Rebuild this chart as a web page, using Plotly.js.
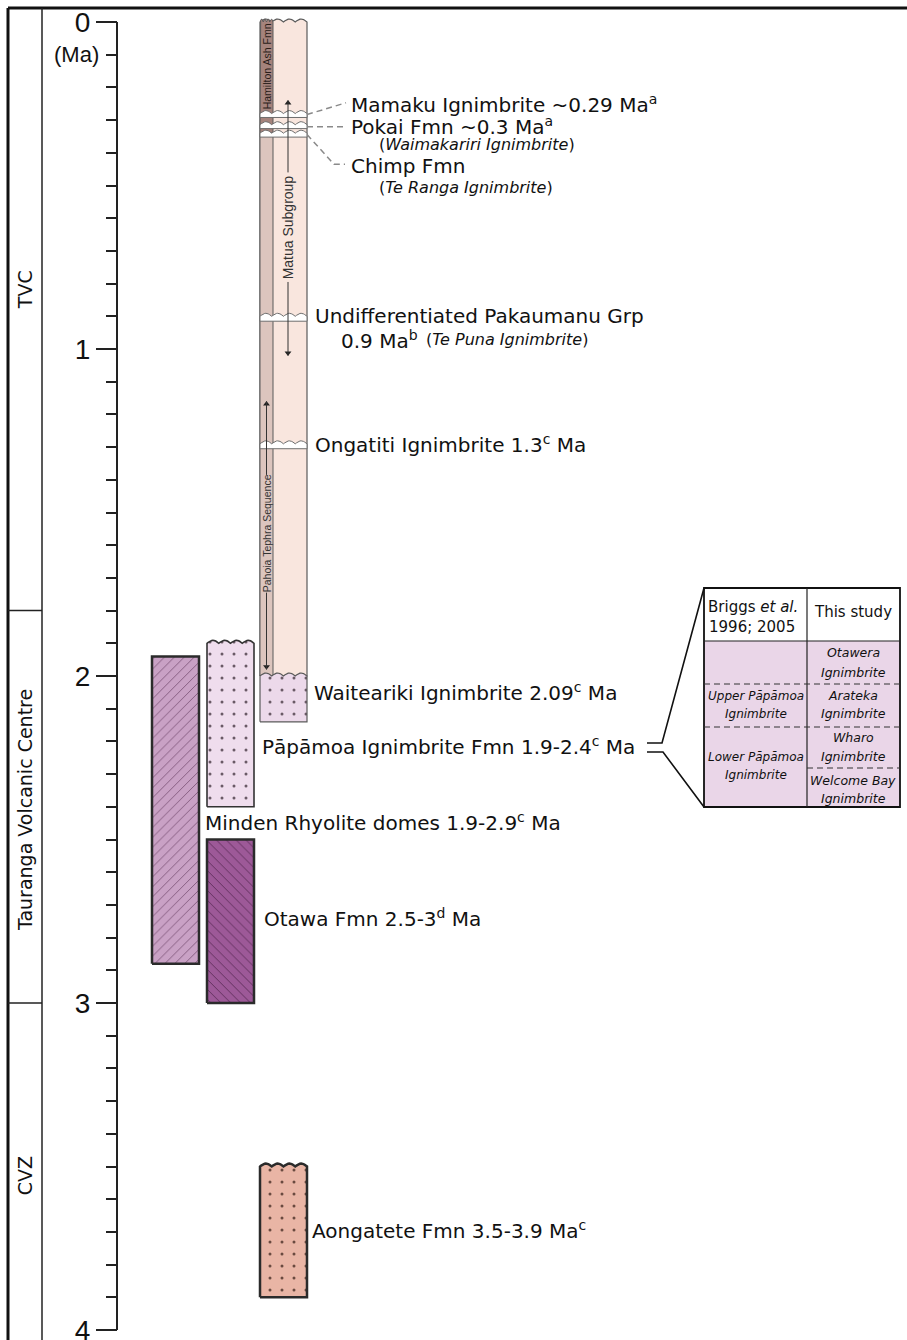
<!DOCTYPE html>
<html><head><meta charset="utf-8">
<script src="https://cdn.plot.ly/plotly-3.0.1.min.js"></script>
<style>html,body{margin:0;padding:0;background:#fff}#chart{width:907px;height:1340px}</style>
</head><body><div id="chart"></div>
<script>
// ================= DATA (ages in Ma) =================
const zoneNames  = ['TVC', 'Tauranga Volcanic Centre', 'CVZ'];
const zoneBreaks = [1.8, 3.0];

const majorTickVals = [0, 1, 2, 3, 4];
const majorTickText = ['0', '1', '2', '3', '4'];
const minorTickStep = 0.1;
const unitLabel = '(Ma)';
const unitLabelAge = 0.1;

const unitNames = ['Main sequence', 'Waiteariki Ignimbrite', 'Pāpāmoa Ignimbrite Fmn',
                   'Minden Rhyolite domes', 'Otawa Fmn', 'Aongatete Fmn'];
const unitTop  = [0.00, 2.00, 1.90, 1.94, 2.50, 3.50];
const unitBase = [2.00, 2.14, 2.40, 2.88, 3.00, 3.90];

const stripNames = ['Hamilton Ash Fmn', 'Lower strip'];
const stripTop   = [0.00, 0.34];
const stripBase  = [0.34, 2.00];

const bandNames = ['Mamaku Ignimbrite', 'Pokai Fmn', 'Chimp Fmn',
                   'Undifferentiated Pakaumanu Grp', 'Ongatiti Ignimbrite'];
const bandTop   = [0.280, 0.314, 0.340, 0.900, 1.290];
const bandBase  = [0.292, 0.326, 0.352, 0.915, 1.305];

const groupNames = ['Matua Subgroup', 'Pahoia Tephra Sequence'];
const groupTop   = [0.24, 1.16];
const groupBase  = [1.02, 1.98];

const labelTexts = [
  'Mamaku Ignimbrite ~0.29 Ma<sup>a</sup>',
  'Pokai Fmn ~0.3 Ma<sup>a</sup>',
  '(<i>Waimakariri Ignimbrite</i>)',
  'Chimp Fmn',
  '(<i>Te Ranga Ignimbrite</i>)',
  'Undifferentiated Pakaumanu Grp',
  '0.9 Ma<sup>b</sup>',
  '(<i>Te Puna Ignimbrite</i>)',
  'Ongatiti Ignimbrite 1.3<sup>c</sup> Ma',
  'Waiteariki Ignimbrite 2.09<sup>c</sup> Ma',
  'Pāpāmoa Ignimbrite Fmn 1.9-2.4<sup>c</sup> Ma',
  'Minden Rhyolite domes 1.9-2.9<sup>c</sup> Ma',
  'Otawa Fmn 2.5-3<sup>d</sup> Ma',
  'Aongatete Fmn 3.5-3.9 Ma<sup>c</sup>'
];

const tableHeader = ['Briggs <i>et al.</i>', '1996; 2005', 'This study'];
const tableLeft   = ['Upper Pāpāmoa', 'Ignimbrite', 'Lower Pāpāmoa', 'Ignimbrite'];
const tableRight  = ['Otawera', 'Ignimbrite', 'Arateka', 'Ignimbrite',
                     'Wharo', 'Ignimbrite', 'Welcome Bay', 'Ignimbrite'];

// ================= LAYOUT / POSITIONS / STYLES =================
const W = 907, H = 1340;
const PX0 = 22, PXPERMA = 327;               // pixel row of 0 Ma, pixels per Ma
const yRange = [(H - PX0) / PXPERMA, -PX0 / PXPERMA];
const py = p => 1 - p / H;                    // paper y from pixel row (frame / inset)
const AMP = 3 / PXPERMA;                      // wave amplitude
const FONT = 'DejaVu Sans';
const AFONT = 'Liberation Sans, Arial, sans-serif';

const unitX0 = [260, 260, 207, 152, 207, 260];
const unitX1 = [307, 307, 254, 199, 254, 307];
const unitWavy = [true, true, true, false, false, true];
const unitFill = ['#f9e6de', '#ecd9ea', '#efdded', '#c9a1c5', '#9d5998', '#e9b5a5'];
const unitLine = ['#5a5a5a', '#5a5a5a', '#333333', '#2b2b2b', '#2b2b2b', '#2b2b2b'];
const unitLW   = [1.2, 1.2, 1.6, 2.5, 2.5, 2.5];
const tuff = {shape: '.', size: 12, solidity: 0.05, fgcolor: '#6a5a66'};
const unitPattern = [null, tuff, tuff,
  {shape: '/', size: 7, solidity: 0.1, fgcolor: '#6b4266'},
  {shape: '\\', size: 7, solidity: 0.1, fgcolor: '#4a2046'},
  {shape: '.', size: 12, solidity: 0.05, fgcolor: '#6a4a40'}];

const stripX = [260, 273];
const stripFill = ['#a5837c', '#dcc5be'];
const bandX = [260, 307];

const groupX = [288, 266.5];
const groupGap = [[0.46, 0.795], [1.385, 1.745]];
const groupFont = [14, 10.5];
const groupLabelY = [0.628, 1.565];
const hamiltonLabel = {x: 266.5, y: 0.137, size: 10.5};

const labelX = [349, 349, 377, 349, 377, 313, 339, 424, 313, 312, 260, 203, 262, 310];
const labelY = [0.252, 0.318, 0.376, 0.440, 0.505, 0.899, 0.972, 0.972, 1.291, 2.049, 2.214, 2.446, 2.740, 3.694];
const labelSize = [20, 20, 16, 20, 16, 20, 20, 16, 20, 20, 20, 20, 20, 20];

const zoneLabelY = [0.82, 2.41, 3.53];

// ================= HELPERS =================
function wavyTop(x0, x1, y, n) {
  const xs = [], ys = [], N = n * 10;
  for (let i = 0; i <= N; i++) {
    const t = i / N;
    xs.push(x0 + (x1 - x0) * t);
    ys.push(y - AMP * Math.abs(Math.sin(Math.PI * n * t)));
  }
  return {xs, ys};
}
function colPoly(x0, x1, top, base, wavy) {
  let xs = [x0], ys = [base];
  if (wavy) { const w = wavyTop(x0, x1, top, 4); xs = xs.concat(w.xs); ys = ys.concat(w.ys); }
  else { xs.push(x0, x1); ys.push(top, top); }
  xs.push(x1, x0); ys.push(base, base);
  return {xs, ys};
}
const traces = [];
function addPoly(poly, fill, lineColor, lineWidth, pattern) {
  const t = {type: 'scatter', mode: 'lines', x: poly.xs, y: poly.ys, fill: 'toself',
    fillcolor: fill, line: {color: lineColor, width: lineWidth}, hoverinfo: 'skip', showlegend: false};
  if (pattern) t.fillpattern = Object.assign({bgcolor: fill, fillmode: 'replace'}, pattern);
  traces.push(t);
}

// main column background
addPoly(colPoly(unitX0[0], unitX1[0], unitTop[0], unitBase[0], unitWavy[0]), unitFill[0], unitLine[0], unitLW[0], null);
// left strip
stripNames.forEach((n, i) => addPoly(colPoly(stripX[0], stripX[1], stripTop[i], stripBase[i], i === 0), stripFill[i], '#5a5a5a', 1, null));
// white ignimbrite bands
bandNames.forEach((n, i) => addPoly(colPoly(bandX[0], bandX[1], bandTop[i], bandBase[i], true), '#ffffff', '#6e6e6e', 1, null));
// other units
for (let i = 1; i < unitNames.length; i++) {
  addPoly(colPoly(unitX0[i], unitX1[i], unitTop[i], unitBase[i], unitWavy[i]), unitFill[i], unitLine[i], unitLW[i], unitPattern[i]);
}
// group arrow heads
traces.push({type: 'scatter', mode: 'markers', hoverinfo: 'skip', showlegend: false,
  x: groupX.concat(groupX), y: groupTop.map(v => v + 0.008).concat(groupBase.map(v => v - 0.008)),
  marker: {symbol: groupX.map(() => 'triangle-up').concat(groupX.map(() => 'triangle-down')), size: 6, color: '#222', line: {width: 0}}});

// ================= SHAPES =================
const shapes = [];
// outer frame
shapes.push({type: 'line', xref: 'x', yref: 'paper', x0: 8, x1: W, y0: py(8), y1: py(8), line: {color: '#111', width: 3}});
shapes.push({type: 'line', xref: 'x', yref: 'paper', x0: 8, x1: 8, y0: py(8), y1: 0, line: {color: '#111', width: 3}});
shapes.push({type: 'line', xref: 'x', yref: 'paper', x0: 42, x1: 42, y0: py(8), y1: 0, line: {color: '#222', width: 1.5}});
zoneBreaks.forEach(b => shapes.push({type: 'line', xref: 'x', yref: 'y', x0: 8, x1: 42, y0: b, y1: b, line: {color: '#222', width: 1.5}}));
// axis spine
shapes.push({type: 'line', xref: 'x', yref: 'y', x0: 117, x1: 117, y0: majorTickVals[0], y1: majorTickVals[majorTickVals.length - 1], line: {color: '#222', width: 2}});
// leader lines
const leadDash = {color: '#8a8a8a', width: 1.5, dash: '6px,4px'};
shapes.push({type: 'path', xref: 'x', yref: 'y', path: `M 307 ${bandTop[0] + 0.003} L 346 ${labelY[0] - 0.005}`, line: leadDash});
shapes.push({type: 'path', xref: 'x', yref: 'y', path: `M 307 ${(bandTop[1] + bandBase[1]) / 2} L 346 ${(bandTop[1] + bandBase[1]) / 2}`, line: leadDash});
shapes.push({type: 'path', xref: 'x', yref: 'y', path: `M 307 ${bandTop[2] + 0.004} L 334 ${labelY[3] - 0.005} L 345 ${labelY[3] - 0.005}`, line: leadDash});
// group range lines (with gap for text)
groupNames.forEach((g, i) => {
  shapes.push({type: 'line', xref: 'x', yref: 'y', x0: groupX[i], x1: groupX[i], y0: groupTop[i], y1: groupGap[i][0], line: {color: '#333', width: 1}});
  shapes.push({type: 'line', xref: 'x', yref: 'y', x0: groupX[i], x1: groupX[i], y0: groupGap[i][1], y1: groupBase[i], line: {color: '#333', width: 1}});
});
// inset table
const T = {x0: 704, x1: 900, xm: 807, top: 588, head: 641, r1: 684, r2: 727, r3: 768, bot: 807};
shapes.push({type: 'rect', xref: 'x', yref: 'paper', x0: T.x0, x1: T.x1, y0: py(T.head), y1: py(T.bot), fillcolor: '#ead6e8', line: {width: 0}});
shapes.push({type: 'rect', xref: 'x', yref: 'paper', x0: T.x0, x1: T.x1, y0: py(T.top), y1: py(T.bot), fillcolor: 'rgba(0,0,0,0)', line: {color: '#111', width: 1.8}});
shapes.push({type: 'line', xref: 'x', yref: 'paper', x0: T.x0, x1: T.x1, y0: py(T.head), y1: py(T.head), line: {color: '#222', width: 1.2}});
shapes.push({type: 'line', xref: 'x', yref: 'paper', x0: T.xm, x1: T.xm, y0: py(T.top), y1: py(T.bot), line: {color: '#222', width: 1.2}});
[[T.x0, T.x1, T.r1], [T.x0, T.x1, T.r2], [T.xm, T.x1, T.r3]].forEach(d =>
  shapes.push({type: 'line', xref: 'x', yref: 'paper', x0: d[0], x1: d[1], y0: py(d[2]), y1: py(d[2]), line: {color: '#333', width: 1.2, dash: '6px,4px'}}));
// bracket from Pāpāmoa label to table
shapes.push({type: 'path', xref: 'x', yref: 'paper', path: `M 647 ${py(743)} L 662 ${py(743)} L ${T.x0} ${py(T.top)}`, line: {color: '#111', width: 1.6}});
shapes.push({type: 'path', xref: 'x', yref: 'paper', path: `M 647 ${py(752)} L 663 ${py(752)} L ${T.x0} ${py(T.bot)}`, line: {color: '#111', width: 1.6}});

// ================= ANNOTATIONS =================
const ann = [];
zoneNames.forEach((z, i) => ann.push({xref: 'x', yref: 'y', x: 25, y: zoneLabelY[i], text: z, textangle: -90,
  showarrow: false, font: {family: FONT, size: 19, color: '#111'}}));
ann.push({xref: 'x', yref: 'y', x: 101, y: unitLabelAge, text: unitLabel, xanchor: 'right', showarrow: false,
  font: {family: AFONT, size: 22, color: '#111'}});
labelTexts.forEach((t, i) => ann.push({xref: 'x', yref: 'y', x: labelX[i], y: labelY[i], text: t, xanchor: 'left',
  yanchor: 'middle', showarrow: false, font: {family: FONT, size: labelSize[i], color: '#111'}}));
// column internal labels
ann.push({xref: 'x', yref: 'y', x: hamiltonLabel.x, y: hamiltonLabel.y, text: stripNames[0], textangle: -90, showarrow: false,
  font: {family: AFONT, size: hamiltonLabel.size, color: '#2a1d1a'}});
groupNames.forEach((g, i) => {
  ann.push({xref: 'x', yref: 'y', x: groupX[i], y: groupLabelY[i], text: g, textangle: -90, showarrow: false,
    font: {family: AFONT, size: groupFont[i], color: '#333'}});
});
// table texts
const tF = s => ({family: FONT, size: s, color: '#111'});
ann.push({xref: 'x', yref: 'paper', x: 753, y: py(607), text: tableHeader[0], showarrow: false, font: tF(15)});
ann.push({xref: 'x', yref: 'paper', x: 752, y: py(627), text: tableHeader[1], showarrow: false, font: tF(15)});
ann.push({xref: 'x', yref: 'paper', x: 853, y: py(612), text: tableHeader[2], showarrow: false, font: tF(15)});
const leftRows = [696, 714, 757, 775];
tableLeft.forEach((t, i) => ann.push({xref: 'x', yref: 'paper', x: 756, y: py(leftRows[i]), text: '<i>' + t + '</i>', showarrow: false, font: tF(12)}));
const rightRows = [653, 672, 695, 713, 737, 756, 780, 798];
tableRight.forEach((t, i) => ann.push({xref: 'x', yref: 'paper', x: 853, y: py(rightRows[i]), text: '<i>' + t + '</i>', showarrow: false, font: tF(12.5)}));

// ================= LAYOUT =================
const layout = {
  width: W, height: H, margin: {l: 0, r: 0, t: 0, b: 0},
  paper_bgcolor: '#fff', plot_bgcolor: '#fff', showlegend: false,
  xaxis: {range: [0, W], visible: false, fixedrange: true},
  yaxis: {
    range: yRange, anchor: 'free', position: 117 / W, side: 'left',
    showgrid: false, zeroline: false, showline: false,
    tickmode: 'array', tickvals: majorTickVals, ticktext: majorTickText,
    ticks: 'outside', ticklen: 21, tickwidth: 2, tickcolor: '#222',
    ticklabeloverflow: 'allow',
    tickfont: {family: AFONT, size: 28, color: '#111'},
    minor: {tickmode: 'linear', tick0: 0, dtick: minorTickStep, ticks: 'outside', ticklen: 11, tickwidth: 2, tickcolor: '#222', showgrid: false},
    fixedrange: true
  },
  shapes: shapes, annotations: ann
};
Plotly.newPlot('chart', traces, layout, {staticPlot: true, displayModeBar: false});
</script></body></html>
